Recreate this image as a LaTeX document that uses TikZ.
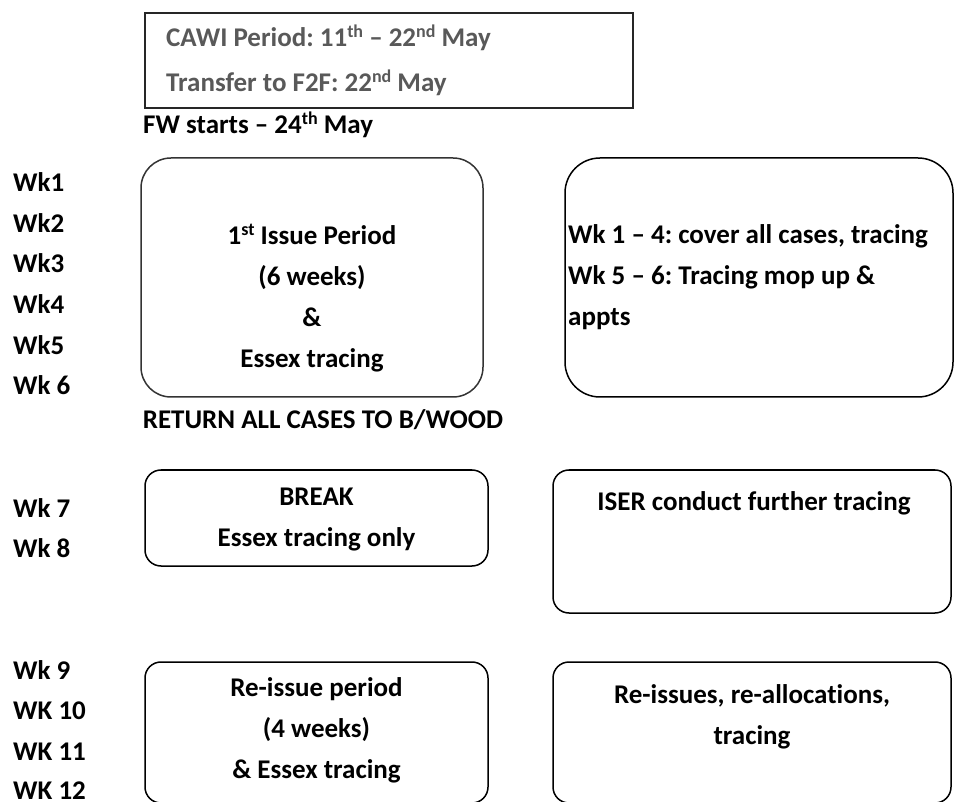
\documentclass[tikz,border=0pt]{standalone}
\usepackage{fontspec}
\setmainfont{Carlito}[Ligatures=NoCommon]
\usetikzlibrary{positioning}
\definecolor{cawigray}{HTML}{595959}
\newcommand{\sups}[1]{\raisebox{9pt}{\fontsize{18}{18}\selectfont #1}}
\frenchspacing

\begin{document}
\begin{tikzpicture}[x=1pt,y=-1pt,
    txt/.style={font=\fontsize{27}{41}\selectfont\bfseries, inner sep=0pt},
    wk/.style={txt, anchor=west},
    box/.style={draw, line width=1.5pt, rounded corners=16pt, inner sep=0pt}]
    \useasboundingbox (0,0) rectangle (954,802);
    \clip (0,0) rectangle (954,802);

    % CAWI period box
    \node[draw, line width=1.5pt, draw=black!85, minimum width=488pt, minimum height=95pt] (cawi) at (389,60.5) {};
    \node[txt, text=cawigray, anchor=west, align=left, font=\fontsize{27}{45}\selectfont\bfseries] (cawitxt) at (166,60.5)
        {CAWI Period: 11\sups{th} – 22\sups{nd} May\\Transfer to F2F: 22\sups{nd} May};
    \node[txt, anchor=west] (fw) at (143,125) {FW starts – 24\sups{th} May};

    % week labels
    \node[wk] (w1) at (13,182) {Wk1};
    \node[wk] (w2) at (13,223) {Wk2};
    \node[wk] (w3) at (13,263) {Wk3};
    \node[wk] (w4) at (13,304) {Wk4};
    \node[wk] (w5) at (13,345) {Wk5};
    \node[wk] (w6) at (13,385) {Wk 6};
    \node[wk] (w7) at (13,508) {Wk 7};
    \node[wk] (w8) at (13,548) {Wk 8};
    \node[wk] (w9) at (13,670) {Wk 9};
    \node[wk] (w10) at (13,711) {WK 10};
    \node[wk] (w11) at (13,752) {WK 11};
    \node[wk] (w12) at (13,791) {WK 12};

    % first issue
    \node[box, rounded corners=30pt, draw=black!80, minimum width=342pt, minimum height=239pt] (issue) at (312,277.5) {};
    \node[txt, align=center] (issuetxt) at (312,298.5)
        {1\sups{st} Issue Period\\(6 weeks)\\\&\\Essex tracing};
    \node[box, rounded corners=35pt, minimum width=388pt, minimum height=239pt] (trace) at (759,277.5) {};
    \node[txt, align=left, anchor=west] (tracetxt) at (568,277)
        {Wk 1 – 4: cover all cases, tracing\\Wk 5 – 6: Tracing mop up \&\\appts};
    \node[txt] (ret) at (323,420) {RETURN ALL CASES TO B/WOOD};

    % break
    \node[box, minimum width=343pt, minimum height=96pt] (pause) at (316.5,518) {};
    \node[txt, align=center] (pausetxt) at (316.5,519.5) {BREAK\\Essex tracing only};
    \node[box, minimum width=398pt, minimum height=143pt] (iser) at (752,541.5) {};
    \node[txt] (isertxt) at (754,503) {ISER conduct further tracing};

    % re-issue
    \node[box, minimum width=343pt, minimum height=141pt] (reissue) at (316.5,732.5) {};
    \node[txt, align=center] (reissuetxt) at (316.5,730)
        {Re-issue period\\(4 weeks)\\\& Essex tracing};
    \node[box, minimum width=398pt, minimum height=141pt] (realloc) at (752,732.5) {};
    \node[txt, align=center] (realloctxt) at (752,717)
        {Re-issues, re-allocations,\\tracing};
\end{tikzpicture}
\end{document}
